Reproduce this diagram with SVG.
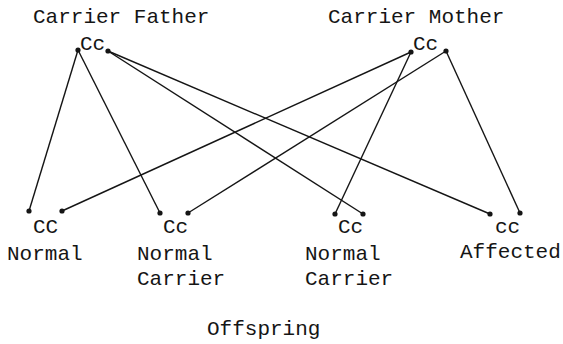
<svg xmlns="http://www.w3.org/2000/svg" width="563" height="344" viewBox="0 0 563 344">
<style>
text{font-family:"Liberation Mono","Courier New",monospace;font-size:21px;fill:#151515}
.c{stroke:#151515;stroke-width:1.4;fill:none}
.d{fill:#151515}
</style>
<rect width="563" height="344" fill="#fff"/>
<g id="connectors">
<line class="c" x1="78" y1="50" x2="29" y2="211"/>
<line class="c" x1="78" y1="50" x2="160" y2="213"/>
<line class="c" x1="108" y1="51" x2="363" y2="214"/>
<line class="c" x1="108" y1="51" x2="490" y2="214"/>
<line class="c" x1="411" y1="52" x2="62" y2="211"/>
<line class="c" x1="411" y1="52" x2="335" y2="214"/>
<line class="c" x1="446" y1="51" x2="188" y2="213"/>
<line class="c" x1="446" y1="51" x2="520" y2="213"/>
</g>
<g id="father">
<text x="33" y="23">Carrier Father</text>
<text x="80" y="50">Cc</text>
<circle class="d" cx="78" cy="50" r="2.6"/>
<circle class="d" cx="108" cy="51" r="2.6"/>
</g>
<g id="mother">
<text x="328" y="23">Carrier Mother</text>
<text x="413" y="50">Cc</text>
<circle class="d" cx="411" cy="52" r="2.6"/>
<circle class="d" cx="446" cy="51" r="2.6"/>
</g>
<g id="child1">
<circle class="d" cx="29" cy="211" r="2.6"/>
<circle class="d" cx="62" cy="211" r="2.6"/>
<text x="33" y="233">CC</text>
<text x="7" y="260">Normal</text>
</g>
<g id="child2">
<circle class="d" cx="160" cy="213" r="2.6"/>
<circle class="d" cx="188" cy="213" r="2.6"/>
<text x="163" y="233">Cc</text>
<text x="137" y="260">Normal</text>
<text x="137" y="285">Carrier</text>
</g>
<g id="child3">
<circle class="d" cx="335" cy="214" r="2.6"/>
<circle class="d" cx="363" cy="214" r="2.6"/>
<text x="338" y="233">Cc</text>
<text x="305" y="260">Normal</text>
<text x="305" y="285">Carrier</text>
</g>
<g id="child4">
<circle class="d" cx="490" cy="214" r="2.6"/>
<circle class="d" cx="520" cy="213" r="2.6"/>
<text x="495" y="233">cc</text>
<text x="460" y="258">Affected</text>
</g>
<g id="caption">
<text x="207" y="335">Offspring</text>
</g>
</svg>
